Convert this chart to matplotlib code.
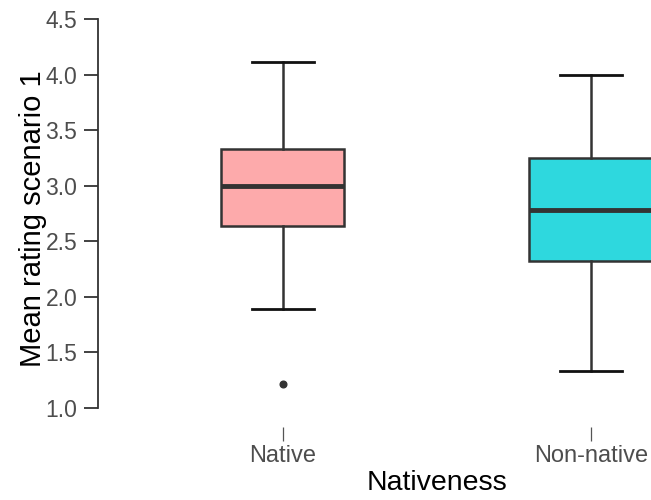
import matplotlib
matplotlib.use('Agg')
import matplotlib.pyplot as plt

plt.rcParams['font.family'] = ['Liberation Sans', 'DejaVu Sans']

# Five-number summaries of the mean rating per group
groups = ['Native', 'Non-native']
whisker_low = [1.89, 1.33]
q1 = [2.64, 2.32]
median = [3.00, 2.78]
q3 = [3.33, 3.25]
whisker_high = [4.11, 4.00]
outliers = [[1.22], []]
fill_colors = ['#FDAAAB', '#2ED8DE']

fig = plt.figure(figsize=(6.51, 5.0), dpi=100)
ax = fig.add_axes([98 / 651, 73 / 500, 677.6 / 651, 417 / 500])

stats = []
for i, g in enumerate(groups):
    stats.append(dict(label=g, whislo=whisker_low[i], q1=q1[i], med=median[i],
                      q3=q3[i], whishi=whisker_high[i], fliers=outliers[i]))

bp = ax.bxp(
    stats,
    positions=[1, 2],
    widths=0.4,
    patch_artist=True,
    boxprops=dict(edgecolor='#333333', linewidth=1.8),
    medianprops=dict(color='#333333', linewidth=3.5, solid_capstyle='butt'),
    whiskerprops=dict(color='#333333', linewidth=1.8),
    capprops=dict(color='#111111', linewidth=2.0),
    flierprops=dict(marker='o', markersize=4.8, markerfacecolor='#333333',
                    markeredgecolor='#333333'),
    capwidths=0.2,
)
for patch, c in zip(bp['boxes'], fill_colors):
    patch.set_facecolor(c)

ax.set_xlim(0.4, 2.6)
ax.set_ylim(0.829, 4.581)
ax.set_yticks([1.0, 1.5, 2.0, 2.5, 3.0, 3.5, 4.0, 4.5])
ax.set_yticklabels(['1.0', '1.5', '2.0', '2.5', '3.0', '3.5', '4.0', '4.5'])
ax.set_xticks([1, 2])
ax.set_xticklabels(groups)

for side in ['top', 'right', 'bottom']:
    ax.spines[side].set_visible(False)
ax.spines['left'].set_bounds(1.0, 4.5)
ax.spines['left'].set_color('#333333')
ax.spines['left'].set_linewidth(1.3)

ax.tick_params(axis='y', length=10, width=1.3, color='#333333', pad=5,
               labelsize=16.5, labelcolor='#4D4D4D')
ax.tick_params(axis='x', length=10, width=0.9, color='#555555', pad=3,
               labelsize=17, labelcolor='#4D4D4D')

ax.set_ylabel('Mean rating scenario 1', fontsize=21, color='black')
ax.yaxis.set_label_coords(-0.075, 0.5)
ax.set_xlabel('Nativeness', fontsize=20.5, color='black', labelpad=2)

fig.savefig('out.png', dpi=100)
